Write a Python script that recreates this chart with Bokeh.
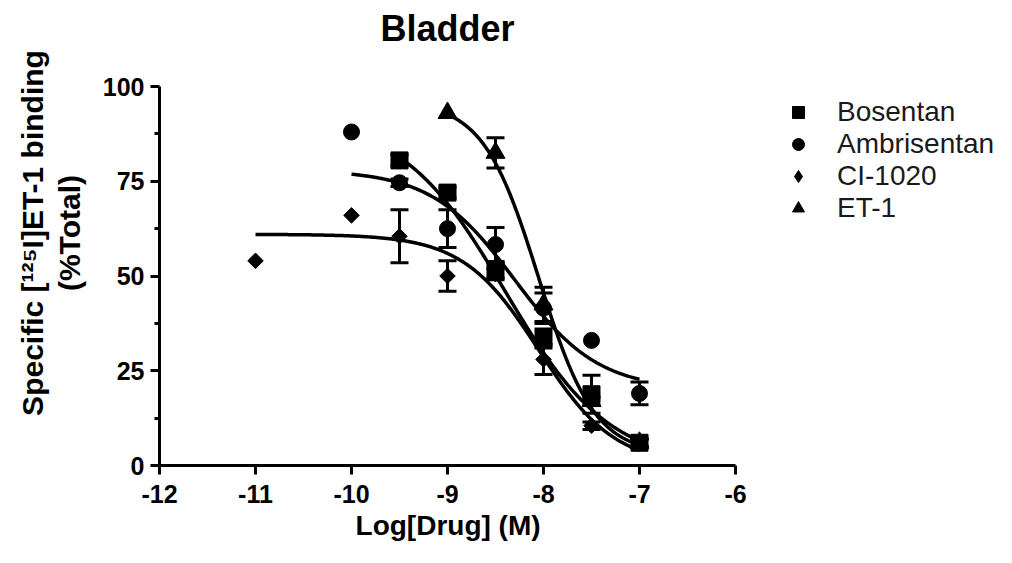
import numpy as np
from bokeh.plotting import figure
from bokeh.models import (Range1d, FixedTicker, Legend, LegendItem, Label, Title,
                          ColumnDataSource, Whisker, TeeHead)
from bokeh.embed import file_html
from bokeh.resources import INLINE

# ---------------- data ----------------
title_text = "Bladder"
x_label = "Log[Drug] (M)"
y_label_1 = "Specific [\u00b9\u00b2\u2075I]ET-1 binding"
y_label_2 = "(%Total)"
series_names = ["Bosentan", "Ambrisentan", "CI-1020", "ET-1"]

bos_x = [-9.5, -9.0, -8.5, -8.0, -7.5, -7.0]
bos_y = [80.5, 72.0, 51.5, 33.5, 18.8, 6.0]
bos_err = [1.5, 1.5, 2.0, 2.5, 5.0, 1.0]

amb_x = [-10.0, -9.5, -9.0, -8.5, -8.0, -7.5, -7.0]
amb_y = [88.0, 74.6, 62.5, 58.3, 41.5, 33.0, 19.0]
amb_err = [0.0, 1.0, 5.0, 4.5, 4.0, 0.0, 3.0]

ci_x = [-11.0, -10.0, -9.5, -9.0, -8.5, -8.0, -7.5, -7.0]
ci_y = [54.0, 66.0, 60.5, 50.0, 50.5, 28.0, 10.5, 6.0]
ci_err = [0.0, 0.0, 7.0, 4.0, 1.5, 4.0, 1.0, 1.0]

et_x = [-9.0, -8.5, -8.0, -7.5, -7.0]
et_y = [93.0, 82.5, 42.5, 17.0, 6.0]
et_err = [0.0, 4.0, 4.5, 1.0, 1.0]

# fitted sigmoid parameters: top, bottom, logEC50, hill slope
bos_fit = [92.0, 0.0, -8.40, 0.80]
amb_fit = [78.0, 20.0, -8.30, 1.00]
ci_fit = [61.0, 0.0, -8.05, 1.10]
et_fit = [96.0, 3.0, -8.05, 1.50]

x_ticks = [-12, -11, -10, -9, -8, -7, -6]
y_ticks = [0, 25, 50, 75, 100]
y_minor = [12.5, 37.5, 62.5, 87.5]

# ---------------- layout ----------------
XMIN, XMAX, YMIN, YMAX = -12, -6, 0, 100
W, H = 996, 547
AX_L, AX_R, AX_T, AX_B = 159, 735, 86, 465   # axes extents in px
PXX = (AX_R - AX_L) / (XMAX - XMIN)          # px per x unit
PXY = (AX_B - AX_T) / (YMAX - YMIN)          # px per y unit
FONT = "Liberation Sans"

# frame spans from the y axis to the right edge and from the top edge to the x axis;
# the axes themselves are bounded to the data extent
x_end = XMIN + (W - AX_L) / PXX
y_end = YMAX + AX_T / PXY


def dx(sx):
    return XMIN + (sx - AX_L) / PXX


def dy(sy):
    return YMIN + (AX_B - sy) / PXY


p = figure(width=W, height=H, x_range=Range1d(XMIN, x_end), y_range=Range1d(YMIN, y_end),
           min_border_left=AX_L, min_border_right=0, min_border_top=0,
           min_border_bottom=H - AX_B, output_backend="svg", toolbar_location=None,
           title=None)
p.outline_line_color = None
p.grid.visible = False
p.background_fill_color = "white"
p.border_fill_color = "white"

for ax in (p.xaxis[0], p.yaxis[0]):
    ax.axis_line_width = 3
    ax.axis_line_color = "black"
    ax.major_tick_line_width = 3
    ax.major_tick_line_color = "black"
    ax.minor_tick_line_width = 3
    ax.minor_tick_line_color = "black"
    ax.major_tick_in = 0
    ax.major_tick_out = 9
    ax.minor_tick_in = 0
    ax.minor_tick_out = 5
    ax.major_label_text_font = FONT
    ax.major_label_text_font_style = "bold"
    ax.major_label_text_font_size = "25px"
    ax.major_label_text_color = "black"
    ax.axis_label_text_font = FONT
    ax.axis_label_text_font_style = "bold"
    ax.axis_label_text_color = "black"

p.xaxis[0].bounds = (XMIN, XMAX)
p.xaxis[0].ticker = FixedTicker(ticks=x_ticks, minor_ticks=[])
p.xaxis[0].major_label_overrides = {t: str(t) for t in x_ticks}
p.xaxis[0].major_label_standoff = 10

p.yaxis[0].bounds = (YMIN, YMAX)
p.yaxis[0].ticker = FixedTicker(ticks=y_ticks, minor_ticks=y_minor)
p.yaxis[0].major_label_standoff = 6
p.yaxis[0].axis_label = y_label_2
p.yaxis[0].axis_label_text_font_size = "30px"
p.yaxis[0].axis_label_standoff = 14

# x-axis title, centred under the bounded axis
xl_size = 28
xl_width = 6.569 * xl_size          # Liberation Sans Bold advance widths
p.add_layout(Title(text=x_label, align="left", offset=(AX_L + AX_R) / 2 - AX_L - xl_width / 2,
                   text_font=FONT, text_font_style="bold", text_font_size=f"{xl_size}px",
                   text_color="black", standoff=5), "below")

# outer line of the y-axis title
p.add_layout(Title(text=y_label_1, align="center", offset=-(267 - AX_B / 2),
                   text_font=FONT, text_font_style="bold", text_font_size="30px",
                   text_color="black", standoff=2), "left")


def curve(xs, fit):
    top, bot, ec, hill = fit
    xx = np.linspace(min(xs), max(xs), 300)
    yy = bot + (top - bot) / (1 + 10 ** ((xx - ec) * hill))
    return xx, yy


# upright diamond used as the CI-1020 legend swatch (hidden under the plotted diamonds)
ci_swatch = p.scatter(ci_x, ci_y, marker="diamond", size=12,
                      fill_color="black", line_color="black", line_width=1)

series = [
    (bos_x, bos_y, bos_err, bos_fit, dict(marker="square", size=17, angle=0.0)),
    (amb_x, amb_y, amb_err, amb_fit, dict(marker="circle", size=16, angle=0.0)),
    (ci_x, ci_y, ci_err, ci_fit, dict(marker="square", size=11, angle=np.pi / 4)),
    (et_x, et_y, et_err, et_fit, dict(marker="triangle", size=19, angle=0.0)),
]

renderers = []
for xs, ys, errs, fit, mk in series:
    cx, cy = curve(xs, fit)
    p.line(cx, cy, line_color="black", line_width=3.5)
    ex = [x for x, e in zip(xs, errs) if e > 0]
    ey = [y for y, e in zip(ys, errs) if e > 0]
    ee = [e for e in errs if e > 0]
    src = ColumnDataSource(dict(x=ex, upper=[y + e for y, e in zip(ey, ee)],
                                lower=[y - e for y, e in zip(ey, ee)]))
    w = Whisker(base="x", upper="upper", lower="lower", source=src,
                line_width=3, line_color="black",
                upper_head=TeeHead(size=18, line_width=3, line_color="black"),
                lower_head=TeeHead(size=18, line_width=3, line_color="black"))
    p.add_layout(w)
    r = p.scatter(xs, ys, marker=mk["marker"], size=mk["size"], angle=mk["angle"],
                  fill_color="black", line_color="black", line_width=1)
    renderers.append(r)

legend_renderers = [renderers[0], renderers[1], ci_swatch, renderers[3]]
legend = Legend(items=[LegendItem(label=n, renderers=[r]) for n, r in zip(series_names, legend_renderers)],
                location=(783 - AX_L, 241), glyph_width=30, glyph_height=30, label_height=32,
                spacing=0, padding=0, margin=0, label_standoff=24,
                label_text_font=FONT, label_text_font_size="28px", label_text_color="#1a1a1a",
                border_line_alpha=0, background_fill_alpha=0)
p.add_layout(legend)

p.add_layout(Label(x=dx((AX_L + AX_R) / 2), y=dy(28), text=title_text, text_align="center",
                   text_baseline="middle", text_font=FONT, text_font_style="bold",
                   text_font_size="36px", text_color="black"))

open("out.html", "w").write(file_html(p, INLINE))
